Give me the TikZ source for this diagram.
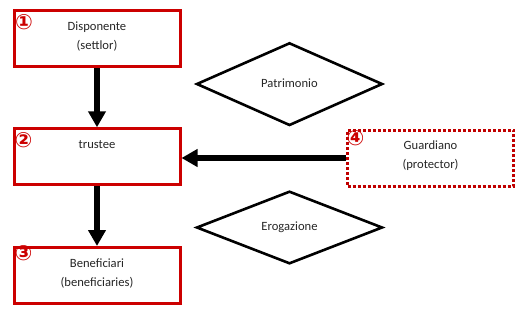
\documentclass[tikz,border=0pt]{standalone}
\usepackage{fontspec}
\setmainfont{Carlito}
\newfontfamily\circfont{DejaVu Sans}
\usetikzlibrary{arrows.meta}
\definecolor{boxred}{RGB}{204,0,0}
\definecolor{dashred}{RGB}{192,0,0}
\tikzset{
  box/.style={draw=boxred, line width=3pt, minimum width=166pt, minimum height=56pt, inner sep=0pt, fill=white},
  dbox/.style={draw=dashred, line width=3pt, dash pattern=on 3pt off 2pt, minimum width=166pt, minimum height=56pt, inner sep=0pt},
  lbl/.style={anchor=base, inner sep=0pt, font=\fontsize{12.6pt}{14pt}\selectfont, text=black!85},
  num/.style={inner sep=0pt, font=\circfont\bfseries\fontsize{21pt}{22pt}\selectfont, text=boxred},
  dia/.style={draw=black, line width=2.6pt, line join=miter},
  arr/.style={line width=5.5pt, -{Triangle[length=16pt,width=17pt]}},
}
\begin{document}
\begin{tikzpicture}[x=1pt,y=-1pt]
\useasboundingbox (0,0) rectangle (530,311);
% boxes
\node[box] (b1) at (97,38.8) {};
\node[box] (b2) at (97,156.8) {};
\node[box] (b3) at (97,275.5) {};
\node[dbox] (b4) at (430.5,158) {};
% texts
\node[lbl] (t1a) at ([yshift=-21.4pt]b1.north) {Disponente};
\node[lbl] (t1b) at ([yshift=-40pt]b1.north) {(settlor)};
\node[lbl] (t2a) at ([yshift=-21.4pt]b2.north) {trustee};
\node[lbl] (t3a) at ([yshift=-21.4pt]b3.north) {Beneficiari};
\node[lbl] (t3b) at ([yshift=-40pt]b3.north) {(beneficiaries)};
\node[lbl] (t4a) at ([yshift=-21.4pt]b4.north) {Guardiano};
\node[lbl] (t4b) at ([yshift=-40pt]b4.north) {(protector)};
% numbers
\node[num] (n1) at (24,22) {①};
\node[num] (n2) at (23.5,140) {②};
\node[num] (n3) at (23.5,253.5) {③};
\node[num] (n4) at (355.5,138) {④};
% diamonds
\draw[dia] (197,84) coordinate (p1) -- (289.5,43.3) coordinate (p2) -- (382,84) coordinate (p3) -- (289.5,125) coordinate (p4) -- cycle;
\node[lbl] (pt) at (289.5,87) {Patrimonio};
\draw[dia] (197,227.5) coordinate (e1) -- (289.5,191.7) coordinate (e2) -- (382,227.5) coordinate (e3) -- (289.5,263.3) coordinate (e4) -- cycle;
\node[lbl] (et) at (289.5,230.5) {Erogazione};
% arrows
\draw[arr] (b1.south) -- (b2.north);
\draw[arr] (b2.south) -- (b3.north);
\draw[arr] (b4.west) -- (b4.west -| b2.east);
\end{tikzpicture}
\end{document}
